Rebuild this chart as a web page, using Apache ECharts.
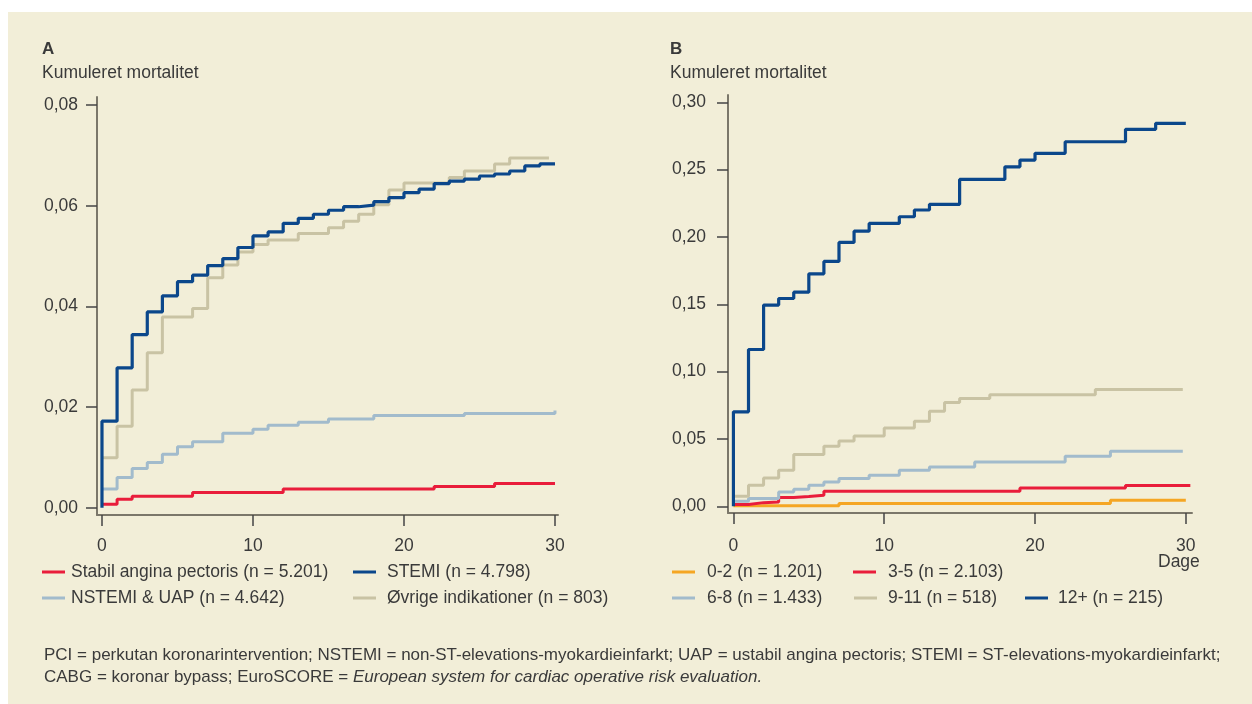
<!DOCTYPE html>
<html>
<head>
<meta charset="utf-8">
<script src="https://cdn.jsdelivr.net/npm/echarts@6/dist/echarts.min.js"></script>
<style>
  body { margin: 0; background: #fff; }
  #wrap { position: relative; width: 1252px; height: 704px; }
  #bg { position: absolute; left: 8px; top: 12px; right: 0; bottom: 0; background: #f2eed8; }
  #chart { position: absolute; left: 0; top: 0; width: 1252px; height: 704px; }
</style>
</head>
<body>
<div id="wrap">
  <div id="bg"></div>
  <div id="chart"></div>
</div>
<script>
// ---- panel A: indication ----
var xTicks = [0, 10, 20, 30];
var yTicksA = [0, 0.02, 0.04, 0.06, 0.08];
var yTicksB = [0, 0.05, 0.10, 0.15, 0.20, 0.25, 0.30];

var stabilDays = [0, 1, 2, 6, 12, 22, 26, 30];
var stabilVals = [0.0007, 0.0017, 0.0023, 0.0030, 0.0037, 0.0042, 0.0048, 0.0048];

var nstemiDays = [0, 1, 2, 3, 4, 5, 6, 8, 10, 11, 13, 15, 18, 24, 30, 30];
var nstemiVals = [0.0037, 0.0060, 0.0078, 0.0090, 0.0106, 0.0121, 0.0131, 0.0148, 0.0156, 0.0164, 0.0170, 0.0176, 0.0183, 0.0187, 0.0187, 0.0193];

var stemiDays = [0, 0, 1, 2, 3, 4, 5, 6, 7, 8, 9, 10, 11, 12, 13, 14, 15, 16, 17, 18, 19, 20, 21, 22, 23, 24, 25, 26, 27, 28, 29, 30];
var stemiVals = [0, 0.0172, 0.0278, 0.0344, 0.0389, 0.0421, 0.0449, 0.0462, 0.0481, 0.0495, 0.0517, 0.0540, 0.0548, 0.0565, 0.0575, 0.0583,
  0.0591, 0.0598, 0.0601, 0.0608, 0.0616, 0.0626, 0.0633, 0.0644, 0.0649, 0.0653, 0.0659, 0.0663, 0.0669, 0.0679, 0.0683, 0.0683];

var ovrigeDays = [0, 1, 2, 3, 4, 6, 7, 8, 9, 10, 11, 13, 15, 16, 17, 18, 19, 20, 23, 24, 26, 27, 29.6];
var ovrigeVals = [0.0099, 0.0162, 0.0234, 0.0308, 0.0379, 0.0396, 0.0457, 0.0482, 0.0508, 0.0523, 0.0532, 0.0545, 0.0556, 0.0569, 0.0583,
  0.0602, 0.0631, 0.0645, 0.0656, 0.0669, 0.0683, 0.0695, 0.0695];

// ---- panel B: EuroSCORE groups ----
var g02Days = [0, 7, 25, 30];
var g02Vals = [0.0003, 0.0021, 0.0045, 0.0045];

var g35Days = [0, 1, 2, 3, 4, 5, 6, 19, 26, 30.3];
var g35Vals = [0.0013, 0.0027, 0.0032, 0.0065, 0.0072, 0.0082, 0.0111, 0.0136, 0.0154, 0.0154];

var g68Days = [0, 1, 3, 4, 5, 6, 7, 9, 11, 13, 16, 22, 25, 29.8];
var g68Vals = [0.0037, 0.0057, 0.0106, 0.0126, 0.0156, 0.0181, 0.0206, 0.0230, 0.0267, 0.0292, 0.0329, 0.0372, 0.0409, 0.0409];

var g911Days = [0, 1, 2, 3, 4, 6, 7, 8, 10, 12, 13, 14, 15, 17, 24, 29.8];
var g911Vals = [0.0074, 0.0156, 0.0210, 0.0267, 0.0384, 0.0446, 0.0485, 0.0522, 0.0582, 0.0632, 0.0706, 0.0770, 0.0800, 0.0828, 0.0867, 0.0867];

var g12Days = [0, 0, 1, 2, 3, 4, 5, 6, 7, 8, 9, 11, 12, 13, 15, 18, 19, 20, 22, 26, 28, 30];
var g12Vals = [0, 0.0701, 0.1164, 0.1494, 0.1543, 0.1590, 0.1726, 0.1818, 0.1959, 0.2043, 0.2100, 0.2150, 0.2200, 0.2242, 0.2427,
  0.2521, 0.2571, 0.2621, 0.2707, 0.2799, 0.2844, 0.2844];

var FONT = '"Liberation Sans", Arial, sans-serif';
var TXT = '#3a3a3a';

function pairs(d, v) {
  return d.map(function (x, i) { return [x, v[i]]; });
}
function comma(v) { return v.toFixed(2).replace('.', ','); }

function stepSeries(name, color, days, vals, idx, width) {
  return {
    name: name,
    type: 'line',
    step: 'end',
    xAxisIndex: idx,
    yAxisIndex: idx,
    showSymbol: false,
    color: color,
    lineStyle: { color: color, width: width || 3 },
    data: pairs(days, vals)
  };
}

function xAxisDef(idx, min, max, margin) {
  return {
    type: 'value', gridIndex: idx, min: min, max: max,
    splitLine: { show: false },
    axisLine: { onZero: false, lineStyle: { color: '#7b776a', width: 2 } },
    axisTick: { customValues: xTicks, length: 11, lineStyle: { color: '#444', width: 1.5 } },
    axisLabel: { customValues: xTicks, margin: margin, fontSize: 17.5, color: TXT, fontFamily: FONT }
  };
}
function yAxisDef(idx, min, max, ticks, margin) {
  return {
    type: 'value', gridIndex: idx, min: min, max: max,
    splitLine: { show: false },
    axisLine: { show: true, onZero: false, lineStyle: { color: '#7b776a', width: 2 } },
    axisTick: { show: true, customValues: ticks, length: 11, lineStyle: { color: '#444', width: 1.5 } },
    axisLabel: { customValues: ticks, margin: margin, fontSize: 17.5, color: TXT, fontFamily: FONT, formatter: comma }
  };
}

// pad = extra gap between line sample and text
function legendItem(name, left, top, pad) {
  return {
    data: [name], left: left, top: top, padding: 0,
    icon: 'rect', itemWidth: 23, itemHeight: 3,
    textStyle: { fontSize: 17.5, color: TXT, fontFamily: FONT, lineHeight: 18, padding: [0, 0, 0, pad] }
  };
}

function label(text, x, y, extra) {
  var st = { text: text, x: x, y: y, fill: TXT, font: '17.5px ' + FONT, textVerticalAlign: 'middle' };
  for (var k in extra) st[k] = extra[k];
  return { type: 'text', style: st };
}

var chart = echarts.init(document.getElementById('chart'));
var option = {
  animation: false,
  backgroundColor: 'transparent',
  grid: [
    { left: 97, top: 97, width: 461, height: 418 },
    { left: 728, top: 95, width: 464, height: 418 }
  ],
  xAxis: [xAxisDef(0, -0.33, 30.2, 22), xAxisDef(1, -0.36, 30.41, 24)],
  yAxis: [
    yAxisDef(0, -0.00145, 0.0816, yTicksA, 19),
    yAxisDef(1, -0.005, 0.3054, yTicksB, 22)
  ],
  legend: [
    legendItem('Stabil angina pectoris (n = 5.201)', 42, 563, 1),
    legendItem('STEMI (n = 4.798)', 353, 563, 6),
    legendItem('NSTEMI & UAP (n = 4.642)', 42, 589, 1),
    legendItem('Øvrige indikationer (n = 803)', 353, 589, 6),
    legendItem('0-2 (n = 1.201)', 672, 563, 7),
    legendItem('3-5 (n = 2.103)', 853, 563, 7),
    legendItem('6-8 (n = 1.433)', 672, 589, 7),
    legendItem('9-11 (n = 518)', 854, 589, 6),
    legendItem('12+ (n = 215)', 1025, 589, 5)
  ],
  graphic: [
    label('A', 42, 49, { font: 'bold 17px ' + FONT }),
    label('Kumuleret mortalitet', 42, 73),
    label('B', 670, 49, { font: 'bold 17px ' + FONT }),
    label('Kumuleret mortalitet', 670, 73),
    label('Dage', 1158, 562),
    {
      type: 'text',
      style: {
        x: 44, y: 655, textVerticalAlign: 'middle', fill: TXT, font: '17px ' + FONT,
        text: 'PCI = perkutan koronarintervention; NSTEMI = non-ST-elevations-myokardieinfarkt; UAP = ustabil angina pectoris; STEMI = ST-elevations-myokardieinfarkt;'
      }
    },
    {
      type: 'text',
      style: {
        x: 44, y: 677, textVerticalAlign: 'middle', fill: TXT, font: '17px ' + FONT,
        text: 'CABG = koronar bypass; EuroSCORE = {i|European system for cardiac operative risk evaluation.}',
        rich: { i: { fontStyle: 'italic', fontSize: 17, fontFamily: FONT, fill: TXT } }
      }
    }
  ],
  series: [
    stepSeries('Øvrige indikationer (n = 803)', '#c9c3a4', ovrigeDays, ovrigeVals, 0),
    stepSeries('NSTEMI & UAP (n = 4.642)', '#a2bbcc', nstemiDays, nstemiVals, 0),
    stepSeries('Stabil angina pectoris (n = 5.201)', '#e91d3b', stabilDays, stabilVals, 0),
    stepSeries('STEMI (n = 4.798)', '#0b478b', stemiDays, stemiVals, 0, 3.2),

    stepSeries('0-2 (n = 1.201)', '#f5a623', g02Days, g02Vals, 1),
    stepSeries('3-5 (n = 2.103)', '#e91d3b', g35Days, g35Vals, 1),
    stepSeries('6-8 (n = 1.433)', '#a2bbcc', g68Days, g68Vals, 1),
    stepSeries('9-11 (n = 518)', '#c9c3a4', g911Days, g911Vals, 1),
    stepSeries('12+ (n = 215)', '#0b478b', g12Days, g12Vals, 1, 3.2)
  ]
};
option && chart.setOption(option);
</script>
</body>
</html>
